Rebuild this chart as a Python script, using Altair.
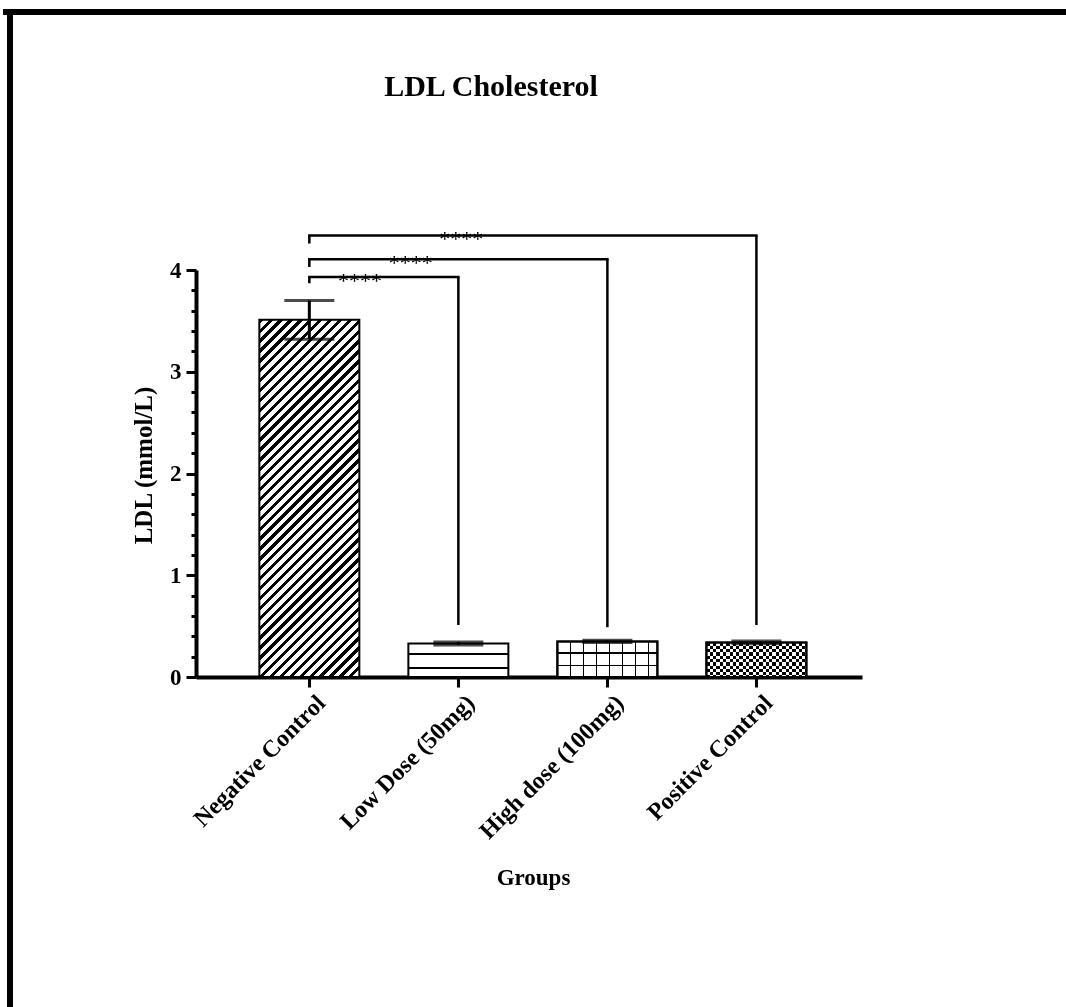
import json
import math

import altair as alt
import pandas as pd

# ---- data -------------------------------------------------------------
groups = ["Negative Control", "Low Dose (50mg)", "High dose (100mg)", "Positive Control"]
means = [3.51, 0.33, 0.35, 0.34]
sds = [0.19, 0.015, 0.012, 0.013]

# significance brackets: Negative Control (index 0) against each treatment
cmp_from = [0, 0, 0]
cmp_to = [1, 2, 3]
cmp_level = [3.93, 4.105, 4.34]
cmp_left_tip = [3.87, 4.03, 4.26]
cmp_right_end = [0.51, 0.49, 0.51]
cmp_label = ["****", "****", "****"]

chart_title = "LDL Cholesterol"

# ---- layout / style -----------------------------------------------------
W, H = 666, 407
PAD = {"left": 196, "top": 270, "right": 204, "bottom": 330}
BAR_W = 100
PX_PER_UNIT = H / 4
FONT = "Liberation Serif"

x_scale = alt.Scale(domain=[-0.727, 3.675], nice=False, zero=False)
y_scale = alt.Scale(domain=[0, 4], nice=False, zero=True)

x_axis = alt.Axis(
    values=[0, 1, 2, 3],
    labelExpr=f"{json.dumps(groups)}[datum.value]",
    labelAngle=-45,
    labelAlign="right",
    labelBaseline="middle",
    labelPadding=12,
    labelOffset=12,
    labelLimit=500,
    labelOverlap=False,
    labelFont=FONT,
    labelFontSize=24,
    labelFontWeight="bold",
    labelColor="black",
    tickSize=10,
    tickWidth=3,
    tickColor="black",
    domainWidth=4,
    domainColor="black",
    grid=False,
    title="Groups",
    titleFont=FONT,
    titleFontSize=23,
    titleFontWeight="bold",
    titleColor="black",
    titleX=337,
    titleY=200,
    titleAlign="center",
    titleBaseline="middle",
)

y_axis_major = alt.Axis(
    orient="left",
    values=[0, 1, 2, 3, 4],
    format="d",
    labelFont=FONT,
    labelFontSize=23,
    labelFontWeight="bold",
    labelColor="black",
    labelPadding=5,
    tickSize=10,
    tickWidth=3,
    tickColor="black",
    domainWidth=4,
    domainColor="black",
    grid=False,
    title="LDL (mmol/L)",
    titleFont=FONT,
    titleFontSize=25,
    titleFontWeight="bold",
    titleColor="black",
    titleX=-53,
    titleY=195,
    titleAngle=-90,
    titleAlign="center",
    titleBaseline="middle",
)

minor_vals = [round(i * 0.2, 1) for i in range(1, 20) if i % 5 != 0]
y_axis_minor = alt.Axis(
    orient="left",
    values=minor_vals,
    labels=False,
    domain=False,
    tickSize=5,
    tickWidth=3,
    tickColor="black",
    grid=False,
    title=None,
)


def stripe_stops(length, period, line, phase=0.0, ink="#000000", paper="#ffffff"):
    """Hard-edged gradient stops that paint lines of `line` px every `period` px."""
    stops = [{"offset": 0, "color": paper}]
    pos = phase
    while pos < length:
        a = max(pos, 0) / length
        b = min(pos + line, length) / length
        stops += [
            {"offset": a, "color": paper},
            {"offset": a, "color": ink},
            {"offset": b, "color": ink},
            {"offset": b, "color": paper},
        ]
        pos += period
    stops.append({"offset": 1, "color": paper})
    return stops


def horizontal_lines(height, period, line, phase=0.0):
    return {"gradient": "linear", "x1": 0, "y1": 0, "x2": 0, "y2": 1,
            "stops": stripe_stops(height, period, line, phase)}


def vertical_lines(width, period, line, phase=0.0):
    return {"gradient": "linear", "x1": 0, "y1": 0, "x2": 1, "y2": 0,
            "stops": stripe_stops(width, period, line, phase)}


def rising_lines(width, height, period, line):
    # "/" lines at 45 degrees in screen space
    w, h = width, height
    k = (w + h) / (w * w + h * h)
    span = (w + h) / math.sqrt(2)
    return {"gradient": "linear", "x1": 0, "y1": 0, "x2": w * k, "y2": h * k,
            "stops": stripe_stops(span, period, line)}


bar_h = [m * PX_PER_UNIT for m in means]

df = pd.DataFrame({"group": groups, "idx": list(range(len(groups))), "mean": means, "sd": sds})
base = alt.Chart(df).transform_calculate(
    lo="datum.mean - datum.sd", hi="datum.mean + datum.sd"
)

X = alt.X("idx:Q", scale=x_scale, axis=x_axis, title="Groups")


def bar_layer(name, fill, axis=None, blend=None):
    kw = {"size": BAR_W, "fill": fill, "stroke": "black", "strokeWidth": 2, "orient": "vertical"}
    if blend:
        kw["blend"] = blend
    return base.transform_filter(alt.datum.group == name).mark_bar(**kw).encode(
        x=X, y=alt.Y("mean:Q", scale=y_scale, axis=axis)
    )


bars = [
    # dense diagonal hatch
    bar_layer(groups[0], rising_lines(BAR_W, bar_h[0], 7.0, 3.0), axis=y_axis_major),
    # horizontal lines
    bar_layer(groups[1], horizontal_lines(bar_h[1], 13.5, 1.6, 10)),
    # square grid
    bar_layer(groups[2], horizontal_lines(bar_h[2], 12.5, 1.6, 11)),
    bar_layer(groups[2], vertical_lines(BAR_W, 13, 1.6, 12.5), blend="multiply"),
    # checkerboard
    bar_layer(groups[3], horizontal_lines(bar_h[3], 6.6, 3.3, 0)),
    bar_layer(groups[3], vertical_lines(BAR_W, 6.6, 3.3, 0), blend="difference"),
    bar_layer(groups[3], "transparent"),
]

err_stem = base.mark_rule(color="black", strokeWidth=3).encode(
    x=X,
    y=alt.Y("lo:Q", scale=y_scale, axis=y_axis_minor),
    y2="hi:Q",
)
cap_hi = base.mark_tick(orient="horizontal", size=50, thickness=3, color="black").encode(
    x=X, y=alt.Y("hi:Q", scale=y_scale, axis=None)
)
cap_lo = base.mark_tick(orient="horizontal", size=50, thickness=3, color="black").encode(
    x=X, y=alt.Y("lo:Q", scale=y_scale, axis=None)
)

cmp = pd.DataFrame({
    "a": cmp_from, "b": cmp_to, "level": cmp_level,
    "tip": cmp_left_tip, "end": cmp_right_end, "label": cmp_label,
})
cmp_base = alt.Chart(cmp)
XA = alt.X("a:Q", scale=x_scale, axis=x_axis)
XB = alt.X("b:Q", scale=x_scale, axis=x_axis)
bracket_top = cmp_base.mark_rule(color="black", strokeWidth=2.5, strokeCap="square").encode(
    x=XA, x2="b:Q", y=alt.Y("level:Q", scale=y_scale, axis=None)
)
bracket_left = cmp_base.mark_rule(color="black", strokeWidth=2.5).encode(
    x=XA, y=alt.Y("level:Q", scale=y_scale, axis=None), y2="tip:Q"
)
bracket_right = cmp_base.mark_rule(color="black", strokeWidth=2.5).encode(
    x=XB, y=alt.Y("level:Q", scale=y_scale, axis=None), y2="end:Q"
)
stars = cmp_base.transform_calculate(sx="datum.a + 0.34 * (datum.b - datum.a)").mark_text(
    font=FONT, fontSize=22, fontWeight="normal", color="black", baseline="alphabetic", dy=11
).encode(
    x=alt.X("sx:Q", scale=x_scale, axis=x_axis),
    y=alt.Y("level:Q", scale=y_scale, axis=None),
    text="label:N",
)

# chart heading and page frame (pixel positions relative to the plot area)
deco = alt.Chart(pd.DataFrame({"title": [chart_title]}))
heading = deco.mark_text(
    font=FONT, fontSize=30, fontWeight="bold", color="black", align="center", baseline="middle"
).encode(x=alt.value(295), y=alt.value(-183), text="title:N")
frame_top = deco.mark_rule(color="black", strokeWidth=6).encode(
    x=alt.value(-193), x2=alt.value(870), y=alt.value(-258)
)
frame_left = deco.mark_rule(color="black", strokeWidth=6).encode(
    x=alt.value(-186), y=alt.value(-261), y2=alt.value(737)
)

chart = alt.layer(
    *bars, err_stem, cap_hi, cap_lo,
    bracket_top, bracket_left, bracket_right, stars,
    heading, frame_top, frame_left,
).resolve_axis(y="independent").properties(
    width=W,
    height=H,
    autosize=alt.AutoSizeParams(type="none"),
    padding=PAD,
    background="white",
).configure_view(stroke=None)

chart.save("out.html", embed_options={"renderer": "svg", "actions": False})
